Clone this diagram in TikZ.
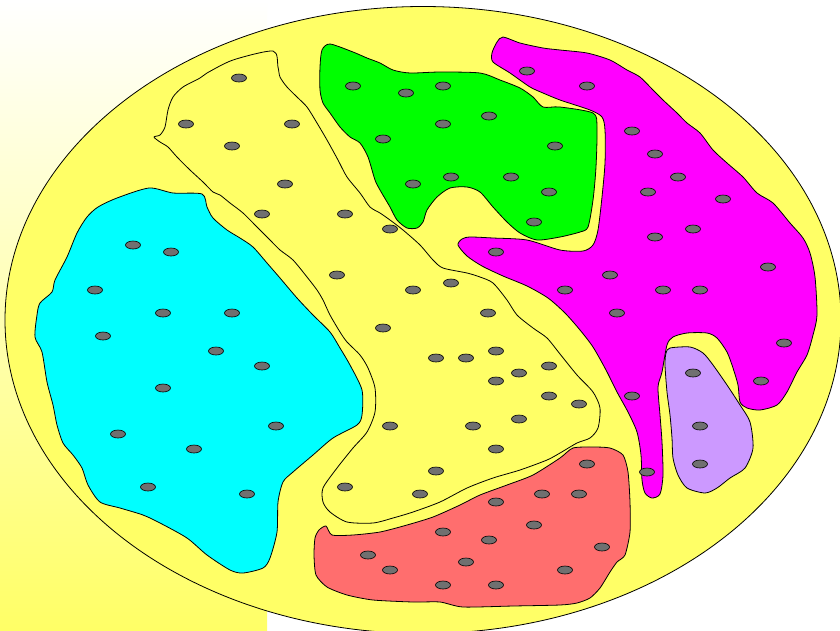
\documentclass[tikz,border=0pt]{standalone}
\usetikzlibrary{shapes.geometric}
\definecolor{bgyel}{HTML}{FFFF66}
\definecolor{fadeyel}{HTML}{FFFFC4}
\definecolor{cyanblob}{HTML}{00FFFF}
\definecolor{greenblob}{HTML}{00FF00}
\definecolor{magblob}{HTML}{FF00FF}
\definecolor{purpblob}{HTML}{CC99FF}
\definecolor{salmblob}{HTML}{FF6E6E}
\definecolor{dotgray}{HTML}{707070}
\tikzset{
  blob/.style={draw=black, line width=0.8pt, line join=round},
  dotmark/.style={draw=black, line width=0.6pt, fill=dotgray}
}
\begin{document}
\begin{tikzpicture}[x=1pt,y=-1pt]
\useasboundingbox (0,0) rectangle (840,630);
\clip (0,0) rectangle (840,630);
\fill[white] (0,0) rectangle (840,630);
% background gradient panel
\shade[top color=white, middle color=fadeyel, bottom color=bgyel] (0,0) rectangle (267,630);
% large ellipse
\draw[blob, fill=bgyel] (423,320) ellipse [x radius=418pt, y radius=313.5pt];
% cyan
\draw[blob, fill=cyanblob] plot[smooth cycle, tension=0.45] coordinates {
(149,188) (173,193) (202,194) (207,207) (213,218) (227,230) (240,238) (253,247) (267,263) (280,278) (297,298) (313,315) (330,332) (340,348) (350,365) (362,390) (362,415) (357,425) (333,438) (313,455) (293,472) (283,482) (278,502) (277,532) (270,558) (263,568) (243,573) (230,570) (207,555) (187,538) (160,523) (143,515) (120,508) (100,502) (88,485) (82,468) (73,455) (63,443) (57,425) (53,405) (47,382) (42,352) (35,337) (37,315) (40,303) (52,292) (55,280) (67,257) (77,233) (87,217) (98,207) (117,198)};
% inner yellow
\draw[blob, fill=bgyel] plot[smooth cycle, tension=0.45] coordinates {
(273,51) (278,67) (280,77) (287,87) (297,97) (307,107) (317,123) (327,140) (338,160) (347,177) (360,193) (370,207) (380,213) (390,220) (403,230) (420,245) (433,260) (443,268) (467,273) (480,277) (493,283) (507,300) (517,315) (533,328) (547,338) (560,354) (577,375) (593,392) (600,408) (598,428) (590,438) (577,443) (560,453) (547,460) (520,470) (493,478) (467,488) (440,502) (413,512) (393,518) (373,523) (347,522) (330,512) (323,502) (323,488) (337,468) (353,448) (367,432) (375,412) (375,388) (368,368) (360,355) (347,342) (340,332) (330,315) (323,300) (317,290) (307,277) (293,260) (280,250) (270,240) (257,227) (243,213) (230,203) (220,195) (213,192) (203,182) (190,170) (177,157) (168,147) (160,142) (154,137) (160,135) (165,127) (168,110) (173,97) (183,87) (200,78) (207,73) (233,60)};
% green
\draw[blob, fill=greenblob] plot[smooth cycle, tension=0.45] coordinates {
(330,44) (353,52) (367,58) (380,63) (393,70) (410,73) (440,72) (480,73) (500,80) (520,88) (533,97) (543,107) (560,107) (593,113) (597,127) (596,167) (593,200) (588,227) (580,232) (560,237) (537,240) (520,233) (507,222) (493,207) (480,192) (467,187) (450,188) (437,197) (427,210) (423,222) (417,228) (407,228) (397,220) (390,207) (380,190) (375,180) (368,157) (360,143) (350,137) (340,127) (330,113) (323,103) (320,90) (320,67) (322,50)};
% magenta
\draw[blob, fill=magblob] plot[smooth cycle, tension=0.45] coordinates {
(503,37) (520,43) (543,48) (560,50) (587,53) (610,60) (627,70) (640,77) (653,90) (663,100) (677,113) (687,123) (700,133) (713,150) (727,163) (743,177) (757,193) (773,203) (790,223) (803,238) (810,253) (815,277) (817,315) (813,335) (807,355) (797,372) (787,392) (777,405) (760,410) (747,408) (740,402) (738,385) (733,368) (727,352) (717,338) (707,333) (687,333) (673,337) (667,345) (662,372) (658,387) (660,415) (662,442) (663,475) (660,494) (652,498) (645,493) (642,480) (641,455) (637,432) (628,412) (617,392) (606,370) (593,347) (580,330) (565,313) (548,298) (527,286) (503,276) (482,266) (467,256) (458,245) (462,239) (470,237) (493,238) (527,240) (560,250) (583,251) (593,245) (598,230) (602,197) (605,163) (605,130) (602,117) (590,110) (560,100) (543,93) (530,87) (510,73) (493,62) (492,53) (497,42)};
% purple
\draw[blob, fill=purpblob] plot[smooth cycle, tension=0.45] coordinates {
(670,348) (690,347) (703,353) (713,365) (727,385) (740,405) (750,422) (753,448) (745,468) (730,478) (717,488) (705,493) (687,488) (678,475) (673,458) (672,438) (670,415) (667,392) (665,365) (666,353)};
% salmon
\draw[blob, fill=salmblob] plot[smooth cycle, tension=0.4] coordinates {
(326,526) (332,535) (353,535) (380,532) (407,525) (433,517) (460,505) (480,495) (507,485) (533,475) (560,458) (573,448) (593,447) (610,448) (623,455) (628,472) (630,502) (630,532) (625,555) (617,562) (610,572) (600,588) (590,598) (577,603) (560,605) (513,606) (463,607) (440,602) (413,602) (373,600) (347,595) (327,587) (316,575) (314,555) (315,538) (319,530)};
% dots
\foreach \p in {
 % cyan
 (133,245),(171,252),(95,290),(163,313),(232,313),(103,336),(216,351),(262,366),(163,388),(276,426),(118,434),(194,449),(148,487),(247,494),
 % inner yellow
 (239,78),(186,124),(292,124),(232,146),(285,184),(262,214),(345,214),(390,229),(337,275),(413,290),(451,283),(488,313),(383,328),(436,358),(466,358),(496,351),(519,373),(549,366),(496,381),(549,396),(579,404),(519,419),(390,426),(473,426),(496,449),(436,471),(345,487),(420,494),
 % green
 (353,86),(406,93),(443,86),(489,116),(443,124),(383,139),(555,146),(451,177),(413,184),(511,177),(549,192),(534,222),
 % magenta
 (527,71),(587,86),(632,131),(655,154),(678,177),(648,192),(723,199),(693,229),(655,237),(496,252),(768,267),(610,275),(565,290),(663,290),(700,290),(617,313),(784,343),(761,381),(632,396),(647,472),
 % purple
 (693,373),(700,426),(700,464),
 % salmon
 (587,464),(542,494),(579,494),(496,502),(534,525),(443,532),(489,540),(602,547),(368,555),(466,562),(390,570),(565,570),(443,585),(496,585)}
 \draw[dotmark] \p ellipse [x radius=7.5pt, y radius=4pt];
\end{tikzpicture}
\end{document}
